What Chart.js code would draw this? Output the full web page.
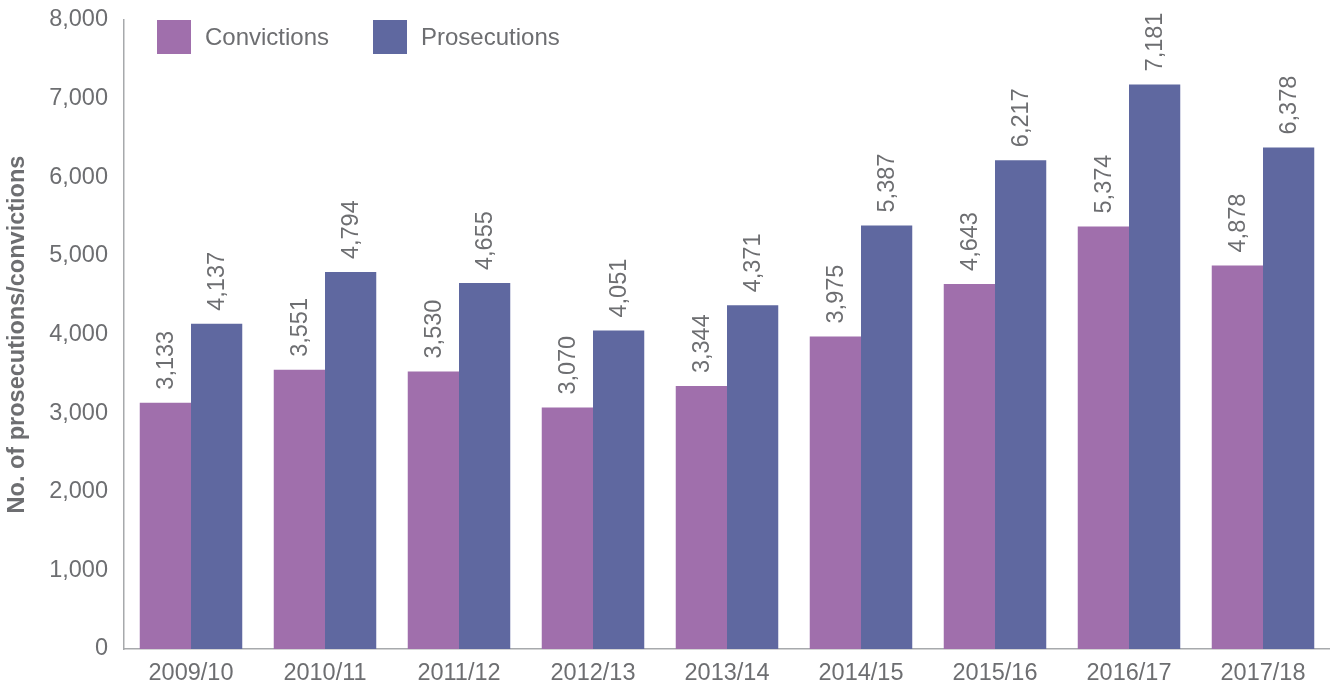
<!DOCTYPE html>
<html>
<head>
<meta charset="utf-8">
<script src="https://cdn.jsdelivr.net/npm/chart.js@4.4.1/dist/chart.umd.min.js"></script>
<style>
  html, body { margin: 0; padding: 0; background: #fff; }
  #wrap { width: 1330px; height: 688px; }
</style>
</head>
<body>
<div id="wrap"><canvas id="c" width="1330" height="688"></canvas></div>
<script>
const categories = ["2009/10", "2010/11", "2011/12", "2012/13", "2013/14", "2014/15", "2015/16", "2016/17", "2017/18"];
const convictions = [3133, 3551, 3530, 3070, 3344, 3975, 4643, 5374, 4878];
const prosecutions = [4137, 4794, 4655, 4051, 4371, 5387, 6217, 7181, 6378];
const seriesNames = ["Convictions", "Prosecutions"];
const yTitle = "No. of prosecutions/convictions";

const FONT = "'Liberation Sans', Arial, Helvetica, sans-serif";
const TEXT = "#6d6e71";
const COLORS = ["#a06fac", "#5f68a0"];

const valueLabels = {
  id: 'valueLabels',
  afterDatasetsDraw(chart) {
    const ctx = chart.ctx;
    ctx.save();
    ctx.font = "23.5px " + FONT;
    ctx.fillStyle = TEXT;
    ctx.textAlign = 'left';
    ctx.textBaseline = 'middle';
    chart.data.datasets.forEach((ds, i) => {
      const meta = chart.getDatasetMeta(i);
      meta.data.forEach((el, j) => {
        ctx.save();
        ctx.translate(el.x, el.y - 13);
        ctx.rotate(-Math.PI / 2);
        ctx.fillText(ds.data[j].toLocaleString('en-US'), 0, 1);
        ctx.restore();
      });
    });
    ctx.restore();
  }
};

const innerLegend = {
  id: 'innerLegend',
  afterDraw(chart) {
    const ctx = chart.ctx;
    ctx.save();
    ctx.font = "24px " + FONT;
    ctx.textBaseline = 'middle';
    ctx.textAlign = 'left';
    const startX = [157, 373];
    chart.data.datasets.forEach((ds, i) => {
      const x = startX[i];
      ctx.fillStyle = ds.backgroundColor;
      ctx.fillRect(x, 20, 34, 34);
      ctx.fillStyle = TEXT;
      ctx.fillText(ds.label, x + 48, 38);
    });
    ctx.restore();
  }
};

new Chart(document.getElementById('c'), {
  type: 'bar',
  data: {
    labels: categories,
    datasets: [
      { label: seriesNames[0], data: convictions, backgroundColor: COLORS[0] },
      { label: seriesNames[1], data: prosecutions, backgroundColor: COLORS[1] }
    ]
  },
  options: {
    responsive: false,
    animation: false,
    devicePixelRatio: 1,
    layout: { padding: { top: 20, right: 0, left: 0, bottom: 0 } },
    datasets: { bar: { categoryPercentage: 0.765, barPercentage: 1.0 } },
    plugins: { legend: { display: false }, tooltip: { enabled: false } },
    scales: {
      x: {
        grid: { display: false, drawTicks: false },
        border: { display: true, color: '#a7a9ac', width: 1.5 },
        ticks: { color: TEXT, font: { family: FONT, size: 23.5 }, padding: 10, maxRotation: 0 },
        afterFit(s) { s.height = 39; s.paddingLeft = 0; s.paddingRight = 0; }
      },
      y: {
        min: 0, max: 8000,
        grid: { display: false, drawTicks: false },
        border: { display: true, color: '#a7a9ac', width: 1.5 },
        ticks: {
          stepSize: 1000, color: TEXT, font: { family: FONT, size: 23.5 }, padding: 16,
          callback: v => v.toLocaleString('en-US')
        },
        title: {
          display: true, text: yTitle, color: TEXT,
          font: { family: FONT, size: 23.5, weight: 'bold' }, padding: { top: 3, bottom: 0 }
        },
        afterFit(s) { s.width = 124; s.paddingTop = 0; s.paddingBottom = 0; }
      }
    }
  },
  plugins: [valueLabels, innerLegend]
});
</script>
</body>
</html>
